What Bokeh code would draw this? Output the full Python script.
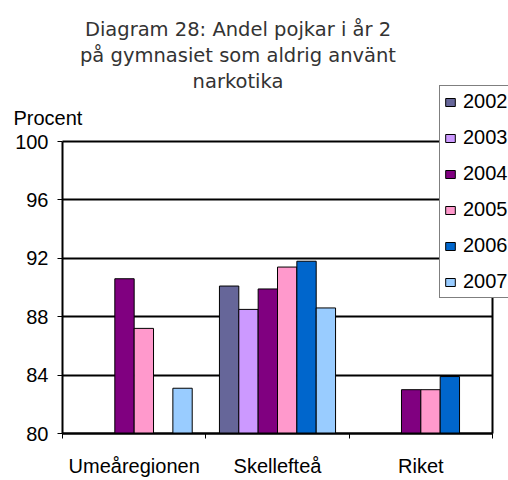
from bokeh.plotting import figure
from bokeh.models import (Range1d, LinearAxis, FixedTicker, ColumnDataSource, Grid,
                          Label, Legend, LegendItem)
from bokeh.embed import file_html
from bokeh.resources import INLINE

# ---- data ----
categories = ["Umeåregionen", "Skellefteå", "Riket"]
years = ["2002", "2003", "2004", "2005", "2006", "2007"]
v2002 = [None, 90.1, None]
v2003 = [None, 88.5, None]
v2004 = [90.6, 89.9, 83.0]
v2005 = [87.2, 91.4, 83.0]
v2006 = [None, 91.8, 83.9]
v2007 = [83.1, 88.6, None]
series = [v2002, v2003, v2004, v2005, v2006, v2007]
colors = ["#666699", "#CC99FF", "#800080", "#FF99CC", "#0066CC", "#99CCFF"]
y_ticks = [80, 84, 88, 92, 96, 100]
title_lines = ["Diagram 28: Andel pojkar i år 2", "på gymnasiet som aldrig använt", "narkotika"]
y_label = "Procent"

FONT = "Liberation Sans"
TFONT = "DejaVu Sans"

# ---- layout (pixels) ----
W, H = 508, 480
PL, PR, PT, PB = 62, 492, 141, 433
n = len(categories)
y0, y1 = y_ticks[0], y_ticks[-1]
xpx = (PR - PL) / n
ypx = (PB - PT) / (y1 - y0)

p = figure(x_range=Range1d(-PL / xpx, n + (W - PR) / xpx),
           y_range=Range1d(y0 - (H - PB) / ypx, y1 + PT / ypx),
           width=W, height=H, output_backend="svg", toolbar_location=None,
           x_axis_location=None, y_axis_location=None, min_border=0)
p.background_fill_color = "white"
p.border_fill_color = "white"
p.outline_line_color = None
p.center = [r for r in p.center if not isinstance(r, Grid)]

# grid
grid = Grid(dimension=1, ticker=FixedTicker(ticks=y_ticks), bounds=(y0, y1),
            grid_line_color="black", grid_line_width=2)
if "cross_bounds" in Grid.properties():
    grid.cross_bounds = (0, n)
    p.add_layout(grid)
else:
    p.segment(x0=[0] * len(y_ticks), x1=[n] * len(y_ticks), y0=y_ticks, y1=y_ticks,
              line_color="black", line_width=2, level="underlay")

# bars
bw = 0.135
items = []
for i, (yr, vals, col) in enumerate(zip(years, series, colors)):
    xs = [k + 0.5 + (i - 2.5) * bw for k, v in enumerate(vals) if v is not None]
    ys = [v for v in vals if v is not None]
    src = ColumnDataSource(dict(x=xs, top=ys))
    r = p.vbar(x="x", top="top", bottom=y0, width=bw, fill_color=col,
               line_color="black", line_width=1, source=src)
    items.append(LegendItem(label=yr, renderers=[r]))

# y axis (left edge of plot area)
yaxis = LinearAxis(fixed_location=0, bounds=(y0, y1), ticker=FixedTicker(ticks=y_ticks),
                   axis_line_color="black", axis_line_width=2,
                   major_tick_out=5, major_tick_in=0, major_tick_line_color="black",
                   minor_tick_line_color=None, major_label_standoff=9,
                   major_label_text_font=FONT, major_label_text_font_size="20px",
                   major_label_text_color="black")
p.add_layout(yaxis, "left")

# right border of plot area
raxis = LinearAxis(fixed_location=n, bounds=(y0, y1), ticker=FixedTicker(ticks=[]),
                   axis_line_color="black", axis_line_width=2,
                   major_tick_line_color=None, minor_tick_line_color=None)
p.add_layout(raxis, "right")

# x axis: boundary ticks + category labels
bounds = list(range(n + 1))
tick_axis = LinearAxis(fixed_location=y0, bounds=(0, n), ticker=FixedTicker(ticks=bounds),
                       major_label_overrides={b: "" for b in bounds},
                       axis_line_color="black", axis_line_width=2,
                       major_tick_out=5, major_tick_in=0, major_tick_line_color="black",
                       minor_tick_line_color=None)
centers = [k + 0.5 for k in range(n)]
cat_axis = LinearAxis(fixed_location=y0, ticker=FixedTicker(ticks=centers),
                      major_label_overrides={c: name for c, name in zip(centers, categories)},
                      axis_line_color=None, major_tick_line_color=None,
                      minor_tick_line_color=None, major_tick_out=0, major_label_standoff=21,
                      major_label_text_font=FONT, major_label_text_font_size="20px",
                      major_label_text_color="black")
p.add_layout(tick_axis, "below")
p.add_layout(cat_axis, "below")

# legend
legend = Legend(items=items, location=(439, H - 298), orientation="vertical",
                label_text_font=FONT, label_text_font_size="20px", label_text_color="black",
                glyph_width=12, glyph_height=10, label_height=23,
                spacing=13, padding=4, label_standoff=7, margin=0,
                border_line_color="black", border_line_width=1,
                background_fill_color="white", background_fill_alpha=1)
p.add_layout(legend)

# title lines
for t, base in zip(title_lines, [29, 55, 81]):
    p.add_layout(Label(x=237.5, y=H - base, x_units="screen", y_units="screen", text=t,
                       text_align="center", text_baseline="alphabetic",
                       text_font=TFONT, text_font_size="19.5px", text_color="#333333"))

p.add_layout(Label(x=13, y=H - 117, x_units="screen", y_units="screen", text=y_label,
                   text_align="left", text_baseline="alphabetic",
                   text_font=FONT, text_font_size="20px", text_color="black"))

open("out.html", "w").write(file_html(p, INLINE))
